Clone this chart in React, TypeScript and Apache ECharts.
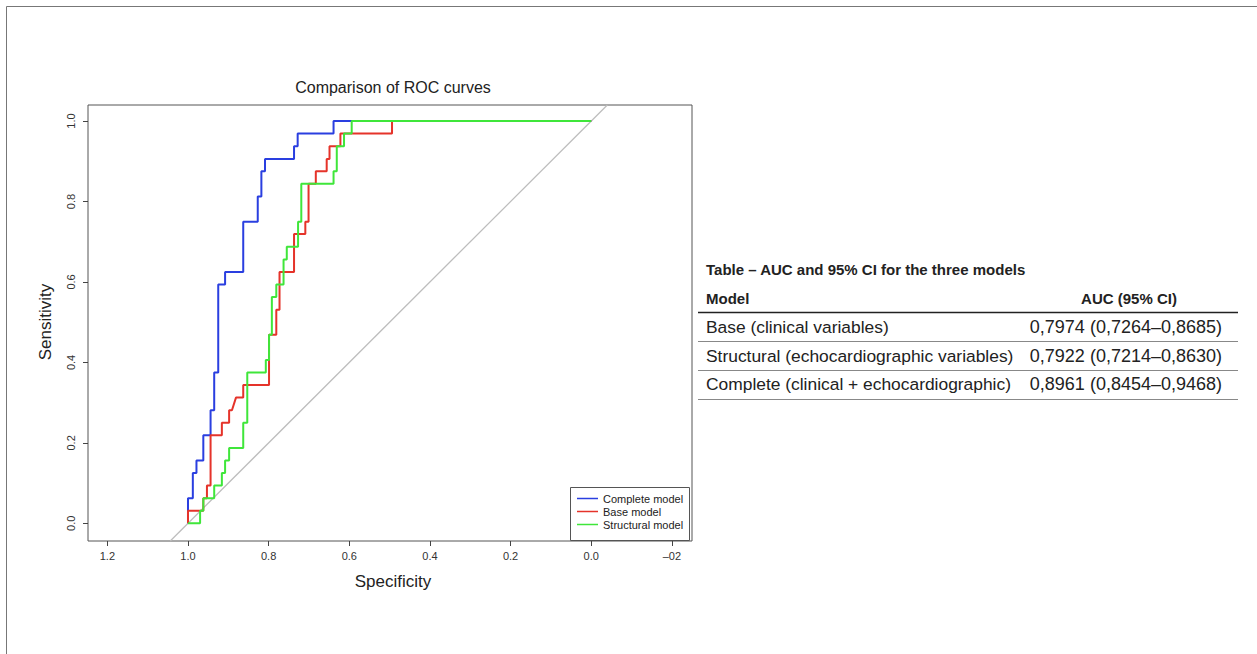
import React, { useEffect, useRef } from "react";
import * as echarts from "echarts";

// ---- axis ticks ----
const xTickValues = [1.2, 1.0, 0.8, 0.6, 0.4, 0.2, 0.0, -0.2];
const xTickLabels = ["1.2", "1.0", "0.8", "0.6", "0.4", "0.2", "0.0", "\u201302"];
const yTickValues = [0.0, 0.2, 0.4, 0.6, 0.8, 1.0];
const yTickLabels = ["0.0", "0.2", "0.4", "0.6", "0.8", "1.0"];

// ---- ROC curves (specificity, sensitivity vertices) ----
const completeSpec = [1.0, 1.0, 0.988, 0.988, 0.979, 0.979, 0.962, 0.962, 0.944, 0.944, 0.935, 0.935, 0.925, 0.925, 0.908, 0.908, 0.863, 0.863, 0.827, 0.827, 0.818, 0.818, 0.809, 0.809, 0.737, 0.737, 0.728, 0.728, 0.639, 0.639, 0.0];
const completeSens = [0.0, 0.0625, 0.0625, 0.125, 0.125, 0.156, 0.156, 0.219, 0.219, 0.281, 0.281, 0.375, 0.375, 0.594, 0.594, 0.625, 0.625, 0.75, 0.75, 0.8125, 0.8125, 0.875, 0.875, 0.906, 0.906, 0.9375, 0.9375, 0.969, 0.969, 1.0, 1.0];

const baseSpec = [1.0, 1.0, 0.962, 0.962, 0.953, 0.953, 0.944, 0.944, 0.916, 0.916, 0.898, 0.898, 0.891, 0.881, 0.863, 0.863, 0.799, 0.799, 0.781, 0.781, 0.773, 0.773, 0.737, 0.737, 0.709, 0.709, 0.701, 0.701, 0.683, 0.683, 0.656, 0.656, 0.649, 0.649, 0.622, 0.622, 0.494, 0.494, 0.0];
const baseSens = [0.0, 0.03125, 0.03125, 0.0625, 0.0625, 0.094, 0.094, 0.219, 0.219, 0.25, 0.25, 0.281, 0.281, 0.3125, 0.3125, 0.344, 0.344, 0.469, 0.469, 0.531, 0.531, 0.625, 0.625, 0.719, 0.719, 0.75, 0.75, 0.844, 0.844, 0.875, 0.875, 0.906, 0.906, 0.9375, 0.9375, 0.969, 0.969, 1.0, 1.0];

const structSpec = [1.0, 0.97, 0.97, 0.962, 0.962, 0.935, 0.935, 0.916, 0.916, 0.908, 0.908, 0.898, 0.898, 0.863, 0.863, 0.853, 0.853, 0.807, 0.807, 0.799, 0.799, 0.792, 0.792, 0.781, 0.781, 0.763, 0.763, 0.755, 0.755, 0.727, 0.727, 0.719, 0.719, 0.639, 0.639, 0.631, 0.631, 0.613, 0.613, 0.594, 0.594, 0.0];
const structSens = [0.0, 0.0, 0.03125, 0.03125, 0.0625, 0.0625, 0.094, 0.094, 0.125, 0.125, 0.156, 0.156, 0.1875, 0.1875, 0.25, 0.25, 0.375, 0.375, 0.406, 0.406, 0.469, 0.469, 0.5625, 0.5625, 0.594, 0.594, 0.656, 0.656, 0.6875, 0.6875, 0.75, 0.75, 0.844, 0.844, 0.875, 0.875, 0.9375, 0.9375, 0.969, 0.969, 1.0, 1.0];

// chance diagonal (sens = 1 - spec), across the whole plot
const diagSpec = [1.044, -0.04];
const diagSens = [-0.044, 1.04];

const seriesNames = ["Complete model", "Base model", "Structural model"];
const seriesColors = ["#2a3fe0", "#e5332a", "#3fe63a"];

// ---- table ----
const tableTitle = "Table \u2013 AUC and 95% CI for the three models";
const tableHeaders = ["Model", "AUC (95% CI)"];
const tableModels = [
  "Base (clinical variables)",
  "Structural (echocardiographic variables)",
  "Complete (clinical + echocardiographic)",
];
const tableAUC = [
  "0,7974 (0,7264\u20130,8685)",
  "0,7922 (0,7214\u20130,8630)",
  "0,8961 (0,8454\u20130,9468)",
];

const zip = (a: number[], b: number[]) => a.map((v, i) => [v, b[i]]);

const FONT = "'Liberation Sans', Arial, Helvetica, sans-serif";
const NARROW = "'Liberation Sans Narrow', 'Arial Narrow', 'Liberation Sans', sans-serif";

export default function App() {
  const ref = useRef<HTMLDivElement>(null);

  useEffect(() => {
    if (!ref.current) return;
    const chart = echarts.init(ref.current, undefined, { renderer: "svg" });

    const curves = [
      { spec: completeSpec, sens: completeSens },
      { spec: baseSpec, sens: baseSens },
      { spec: structSpec, sens: structSens },
    ];

    const graphics: any[] = [
      // outer figure frame
      { type: "line", shape: { x1: 6.5, y1: 6.5, x2: 1257, y2: 6.5 }, style: { stroke: "#777", lineWidth: 1 } },
      { type: "line", shape: { x1: 6.5, y1: 6.5, x2: 6.5, y2: 654 }, style: { stroke: "#777", lineWidth: 1 } },
      // chart title & axis names
      { type: "text", x: 393, y: 87, style: { text: "Comparison of ROC curves", fontSize: 16, fontFamily: FONT, fill: "#222", textAlign: "center", textVerticalAlign: "middle" } },
      { type: "text", x: 393, y: 581, style: { text: "Specificity", fontSize: 17, fontFamily: FONT, fill: "#222", textAlign: "center", textVerticalAlign: "middle" } },
      { type: "text", x: 45, y: 322, rotation: Math.PI / 2, style: { text: "Sensitivity", fontSize: 17, fontFamily: FONT, fill: "#222", textAlign: "center", textVerticalAlign: "middle" } },
      // legend box
      { type: "rect", z: 3, shape: { x: 570.5, y: 487.5, width: 119, height: 53 }, style: { fill: "#fff", stroke: "#555", lineWidth: 1 } },
      // table
      { type: "text", x: 706, y: 269, style: { text: tableTitle, fontSize: 15, fontWeight: "bold", fontFamily: NARROW, fill: "#222", textAlign: "left", textVerticalAlign: "middle" } },
      { type: "text", x: 706, y: 298, style: { text: tableHeaders[0], fontSize: 15, fontWeight: "bold", fontFamily: NARROW, fill: "#222", textAlign: "left", textVerticalAlign: "middle" } },
      { type: "text", x: 1129, y: 298, style: { text: tableHeaders[1], fontSize: 15, fontWeight: "bold", fontFamily: NARROW, fill: "#222", textAlign: "center", textVerticalAlign: "middle" } },
      { type: "line", shape: { x1: 698, y1: 312.5, x2: 1238, y2: 312.5 }, style: { stroke: "#222", lineWidth: 1.3 } },
    ];
    tableModels.forEach((m, i) => {
      const y = 327 + i * 28.7;
      graphics.push({ type: "text", x: 706, y, style: { text: m, fontSize: 17.4, fontFamily: FONT, fill: "#222", textAlign: "left", textVerticalAlign: "middle" } });
      graphics.push({ type: "text", x: 1222, y, style: { text: tableAUC[i], fontSize: 18, fontFamily: FONT, fill: "#222", textAlign: "right", textVerticalAlign: "middle" } });
      const ly = Math.round(341 + i * 29) + 0.5;
      graphics.push({ type: "line", shape: { x1: 698, y1: ly, x2: 1238, y2: ly }, style: { stroke: "#888", lineWidth: 1 } });
    });

    chart.setOption({
      animation: false,
      backgroundColor: "#fff",
      textStyle: { fontFamily: FONT },
      grid: { left: 88, top: 105, width: 604, height: 436, show: true, borderColor: "#555", borderWidth: 1, backgroundColor: "transparent", containLabel: false },
      xAxis: {
        type: "value",
        inverse: true,
        min: -0.25,
        max: 1.248,
        axisLine: { show: false, onZero: false },
        splitLine: { show: false },
        axisTick: { show: true, inside: false, length: 5, customValues: xTickValues, lineStyle: { color: "#444" } },
        axisLabel: {
          customValues: xTickValues,
          margin: 9,
          fontSize: 11,
          fontFamily: NARROW,
          color: "#333",
          formatter: (v: number) => {
            const i = xTickValues.findIndex((t) => Math.abs(t - v) < 1e-6);
            return i >= 0 ? xTickLabels[i] : "";
          },
        },
      },
      yAxis: {
        type: "value",
        min: -0.044,
        max: 1.04,
        axisLine: { show: false, onZero: false },
        splitLine: { show: false },
        axisTick: { show: true, inside: false, length: 5, customValues: yTickValues, lineStyle: { color: "#444" } },
        axisLabel: {
          customValues: yTickValues,
          rotate: 90,
          margin: 12,
          fontSize: 11,
          fontFamily: NARROW,
          color: "#333",
          formatter: (v: number) => {
            const i = yTickValues.findIndex((t) => Math.abs(t - v) < 1e-6);
            return i >= 0 ? yTickLabels[i] : "";
          },
        },
      },
      legend: {
        show: true,
        orient: "vertical",
        left: 577,
        top: 493,
        padding: 0,
        itemGap: 2,
        itemWidth: 21,
        itemHeight: 1.5,
        icon: "rect",
        z: 10,
        data: seriesNames,
        textStyle: { fontSize: 11, lineHeight: 11, fontFamily: NARROW, color: "#222" },
      },
      graphic: graphics,
      series: [
        {
          type: "line",
          name: "diag",
          data: zip(diagSpec, diagSens),
          symbol: "none",
          silent: true,
          lineStyle: { color: "#bdbdbd", width: 1.3 },
          z: 1,
        },
        ...curves.map((c, i) => ({
          type: "line",
          name: seriesNames[i],
          data: zip(c.spec, c.sens),
          symbol: "none",
          showSymbol: false,
          color: seriesColors[i],
          itemStyle: { color: seriesColors[i] },
          lineStyle: { color: seriesColors[i], width: 2 },
          z: 2 + i,
        })),
      ],
    });

    return () => chart.dispose();
  }, []);

  return (
    <div
      ref={ref}
      style={{ position: "absolute", left: 0, top: 0, width: 1257, height: 654, background: "#fff" }}
    />
  );
}
